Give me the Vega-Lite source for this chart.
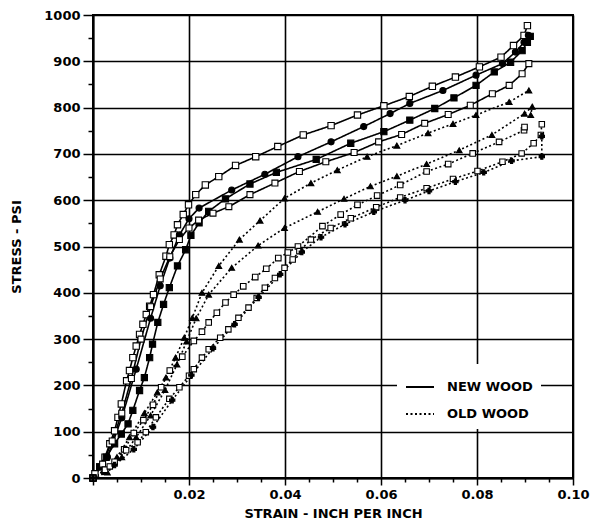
{
"$schema": "https://vega.github.io/schema/vega-lite/v6.json",
"width": 480, "height": 463,
"autosize": "none",
"padding": {"left": 93, "top": 15, "right": 18, "bottom": 46},
"background": "white",
"config": {"view": {"stroke": "black", "strokeWidth": 2}, "font": "DejaVu Sans"},
"datasets": {
"pts": [
{"s":"N1","w":"NEW WOOD","x":0,"y":0},{"s":"N1","w":"NEW WOOD","x":0.0004,"y":9},{"s":"N1","w":"NEW WOOD","x":0.0014,"y":24},{"s":"N1","w":"NEW WOOD","x":0.0025,"y":45},{"s":"N1","w":"NEW WOOD","x":0.0035,"y":74},{"s":"N1","w":"NEW WOOD","x":0.0045,"y":102},{"s":"N1","w":"NEW WOOD","x":0.0052,"y":131},{"s":"N1","w":"NEW WOOD","x":0.0059,"y":160},{"s":"N1","w":"NEW WOOD","x":0.0070,"y":210},{"s":"N1","w":"NEW WOOD","x":0.0076,"y":232},{"s":"N1","w":"NEW WOOD","x":0.0083,"y":260},{"s":"N1","w":"NEW WOOD","x":0.0090,"y":285},{"s":"N1","w":"NEW WOOD","x":0.0097,"y":310},{"s":"N1","w":"NEW WOOD","x":0.0104,"y":332},{"s":"N1","w":"NEW WOOD","x":0.0111,"y":353},{"s":"N1","w":"NEW WOOD","x":0.0118,"y":371},{"s":"N1","w":"NEW WOOD","x":0.0126,"y":396},{"s":"N1","w":"NEW WOOD","x":0.0138,"y":439},{"s":"N1","w":"NEW WOOD","x":0.0152,"y":479},{"s":"N1","w":"NEW WOOD","x":0.0159,"y":504},{"s":"N1","w":"NEW WOOD","x":0.0169,"y":525},{"s":"N1","w":"NEW WOOD","x":0.0176,"y":547},{"s":"N1","w":"NEW WOOD","x":0.0188,"y":569},{"s":"N1","w":"NEW WOOD","x":0.0199,"y":590},{"s":"N1","w":"NEW WOOD","x":0.0214,"y":612},{"s":"N1","w":"NEW WOOD","x":0.0234,"y":633},{"s":"N1","w":"NEW WOOD","x":0.0262,"y":651},{"s":"N1","w":"NEW WOOD","x":0.0297,"y":675},{"s":"N1","w":"NEW WOOD","x":0.0339,"y":694},{"s":"N1","w":"NEW WOOD","x":0.0385,"y":716},{"s":"N1","w":"NEW WOOD","x":0.0438,"y":741},{"s":"N1","w":"NEW WOOD","x":0.0496,"y":761},{"s":"N1","w":"NEW WOOD","x":0.0551,"y":784},{"s":"N1","w":"NEW WOOD","x":0.0606,"y":804},{"s":"N1","w":"NEW WOOD","x":0.0659,"y":824},{"s":"N1","w":"NEW WOOD","x":0.0707,"y":846},{"s":"N1","w":"NEW WOOD","x":0.0755,"y":866},{"s":"N1","w":"NEW WOOD","x":0.0805,"y":888},{"s":"N1","w":"NEW WOOD","x":0.0850,"y":909},{"s":"N1","w":"NEW WOOD","x":0.0876,"y":934},{"s":"N1","w":"NEW WOOD","x":0.0898,"y":956},{"s":"N1","w":"NEW WOOD","x":0.0905,"y":977},
{"s":"N2","w":"NEW WOOD","x":0,"y":0},{"s":"N2","w":"NEW WOOD","x":0.0014,"y":24},{"s":"N2","w":"NEW WOOD","x":0.0028,"y":45},{"s":"N2","w":"NEW WOOD","x":0.0045,"y":74},{"s":"N2","w":"NEW WOOD","x":0.0059,"y":95},{"s":"N2","w":"NEW WOOD","x":0.0073,"y":117},{"s":"N2","w":"NEW WOOD","x":0.0083,"y":146},{"s":"N2","w":"NEW WOOD","x":0.0097,"y":189},{"s":"N2","w":"NEW WOOD","x":0.0107,"y":217},{"s":"N2","w":"NEW WOOD","x":0.0118,"y":260},{"s":"N2","w":"NEW WOOD","x":0.0124,"y":289},{"s":"N2","w":"NEW WOOD","x":0.0135,"y":336},{"s":"N2","w":"NEW WOOD","x":0.0147,"y":375},{"s":"N2","w":"NEW WOOD","x":0.0159,"y":411},{"s":"N2","w":"NEW WOOD","x":0.0176,"y":458},{"s":"N2","w":"NEW WOOD","x":0.0193,"y":493},{"s":"N2","w":"NEW WOOD","x":0.0204,"y":524},{"s":"N2","w":"NEW WOOD","x":0.0221,"y":551},{"s":"N2","w":"NEW WOOD","x":0.0241,"y":576},{"s":"N2","w":"NEW WOOD","x":0.0276,"y":603},{"s":"N2","w":"NEW WOOD","x":0.0327,"y":635},{"s":"N2","w":"NEW WOOD","x":0.0382,"y":660},{"s":"N2","w":"NEW WOOD","x":0.0465,"y":688},{"s":"N2","w":"NEW WOOD","x":0.0537,"y":723},{"s":"N2","w":"NEW WOOD","x":0.0606,"y":748},{"s":"N2","w":"NEW WOOD","x":0.0660,"y":773},{"s":"N2","w":"NEW WOOD","x":0.0712,"y":798},{"s":"N2","w":"NEW WOOD","x":0.0752,"y":821},{"s":"N2","w":"NEW WOOD","x":0.0798,"y":848},{"s":"N2","w":"NEW WOOD","x":0.0836,"y":877},{"s":"N2","w":"NEW WOOD","x":0.0870,"y":898},{"s":"N2","w":"NEW WOOD","x":0.0894,"y":923},{"s":"N2","w":"NEW WOOD","x":0.0905,"y":941},{"s":"N2","w":"NEW WOOD","x":0.0911,"y":954},
{"s":"N3","w":"NEW WOOD","x":0,"y":0},{"s":"N3","w":"NEW WOOD","x":0.003,"y":45},{"s":"N3","w":"NEW WOOD","x":0.006,"y":130},{"s":"N3","w":"NEW WOOD","x":0.009,"y":235},{"s":"N3","w":"NEW WOOD","x":0.012,"y":345},{"s":"N3","w":"NEW WOOD","x":0.014,"y":415},{"s":"N3","w":"NEW WOOD","x":0.016,"y":475},{"s":"N3","w":"NEW WOOD","x":0.018,"y":525},{"s":"N3","w":"NEW WOOD","x":0.020,"y":560},{"s":"N3","w":"NEW WOOD","x":0.0221,"y":583},{"s":"N3","w":"NEW WOOD","x":0.0289,"y":622},{"s":"N3","w":"NEW WOOD","x":0.0358,"y":656},{"s":"N3","w":"NEW WOOD","x":0.0427,"y":694},{"s":"N3","w":"NEW WOOD","x":0.0496,"y":726},{"s":"N3","w":"NEW WOOD","x":0.0564,"y":759},{"s":"N3","w":"NEW WOOD","x":0.0619,"y":787},{"s":"N3","w":"NEW WOOD","x":0.0660,"y":809},{"s":"N3","w":"NEW WOOD","x":0.0729,"y":837},{"s":"N3","w":"NEW WOOD","x":0.0798,"y":870},{"s":"N3","w":"NEW WOOD","x":0.0853,"y":895},{"s":"N3","w":"NEW WOOD","x":0.0880,"y":920},{"s":"N3","w":"NEW WOOD","x":0.0898,"y":941},{"s":"N3","w":"NEW WOOD","x":0.0907,"y":956},
{"s":"N4","w":"NEW WOOD","x":0,"y":0},{"s":"N4","w":"NEW WOOD","x":0.002,"y":30},{"s":"N4","w":"NEW WOOD","x":0.004,"y":80},{"s":"N4","w":"NEW WOOD","x":0.006,"y":140},{"s":"N4","w":"NEW WOOD","x":0.008,"y":215},{"s":"N4","w":"NEW WOOD","x":0.010,"y":300},{"s":"N4","w":"NEW WOOD","x":0.012,"y":370},{"s":"N4","w":"NEW WOOD","x":0.014,"y":430},{"s":"N4","w":"NEW WOOD","x":0.016,"y":478},{"s":"N4","w":"NEW WOOD","x":0.018,"y":515},{"s":"N4","w":"NEW WOOD","x":0.020,"y":540},{"s":"N4","w":"NEW WOOD","x":0.022,"y":557},{"s":"N4","w":"NEW WOOD","x":0.025,"y":572},{"s":"N4","w":"NEW WOOD","x":0.0283,"y":586},{"s":"N4","w":"NEW WOOD","x":0.0327,"y":612},{"s":"N4","w":"NEW WOOD","x":0.0379,"y":637},{"s":"N4","w":"NEW WOOD","x":0.0430,"y":662},{"s":"N4","w":"NEW WOOD","x":0.0485,"y":683},{"s":"N4","w":"NEW WOOD","x":0.0544,"y":703},{"s":"N4","w":"NEW WOOD","x":0.0595,"y":726},{"s":"N4","w":"NEW WOOD","x":0.0643,"y":742},{"s":"N4","w":"NEW WOOD","x":0.0691,"y":766},{"s":"N4","w":"NEW WOOD","x":0.0740,"y":785},{"s":"N4","w":"NEW WOOD","x":0.0786,"y":805},{"s":"N4","w":"NEW WOOD","x":0.0832,"y":830},{"s":"N4","w":"NEW WOOD","x":0.0867,"y":848},{"s":"N4","w":"NEW WOOD","x":0.0894,"y":873},{"s":"N4","w":"NEW WOOD","x":0.0908,"y":895},
{"s":"O1","w":"OLD WOOD","x":0,"y":0},{"s":"O1","w":"OLD WOOD","x":0.0025,"y":13},{"s":"O1","w":"OLD WOOD","x":0.005,"y":45},{"s":"O1","w":"OLD WOOD","x":0.0076,"y":88},{"s":"O1","w":"OLD WOOD","x":0.0107,"y":140},{"s":"O1","w":"OLD WOOD","x":0.0134,"y":185},{"s":"O1","w":"OLD WOOD","x":0.0152,"y":217},{"s":"O1","w":"OLD WOOD","x":0.0172,"y":260},{"s":"O1","w":"OLD WOOD","x":0.019,"y":303},{"s":"O1","w":"OLD WOOD","x":0.0207,"y":346},{"s":"O1","w":"OLD WOOD","x":0.0227,"y":400},{"s":"O1","w":"OLD WOOD","x":0.0262,"y":458},{"s":"O1","w":"OLD WOOD","x":0.0305,"y":515},{"s":"O1","w":"OLD WOOD","x":0.0348,"y":556},{"s":"O1","w":"OLD WOOD","x":0.0399,"y":604},{"s":"O1","w":"OLD WOOD","x":0.0454,"y":637},{"s":"O1","w":"OLD WOOD","x":0.0509,"y":665},{"s":"O1","w":"OLD WOOD","x":0.0571,"y":694},{"s":"O1","w":"OLD WOOD","x":0.0633,"y":718},{"s":"O1","w":"OLD WOOD","x":0.0698,"y":745},{"s":"O1","w":"OLD WOOD","x":0.075,"y":765},{"s":"O1","w":"OLD WOOD","x":0.0798,"y":784},{"s":"O1","w":"OLD WOOD","x":0.0867,"y":812},{"s":"O1","w":"OLD WOOD","x":0.0908,"y":837},
{"s":"O2","w":"OLD WOOD","x":0,"y":0},{"s":"O2","w":"OLD WOOD","x":0.003,"y":12},{"s":"O2","w":"OLD WOOD","x":0.006,"y":45},{"s":"O2","w":"OLD WOOD","x":0.009,"y":88},{"s":"O2","w":"OLD WOOD","x":0.012,"y":135},{"s":"O2","w":"OLD WOOD","x":0.015,"y":190},{"s":"O2","w":"OLD WOOD","x":0.0175,"y":245},{"s":"O2","w":"OLD WOOD","x":0.0195,"y":295},{"s":"O2","w":"OLD WOOD","x":0.0215,"y":345},{"s":"O2","w":"OLD WOOD","x":0.0241,"y":396},{"s":"O2","w":"OLD WOOD","x":0.0289,"y":454},{"s":"O2","w":"OLD WOOD","x":0.0344,"y":502},{"s":"O2","w":"OLD WOOD","x":0.0399,"y":540},{"s":"O2","w":"OLD WOOD","x":0.0468,"y":575},{"s":"O2","w":"OLD WOOD","x":0.0523,"y":603},{"s":"O2","w":"OLD WOOD","x":0.0578,"y":630},{"s":"O2","w":"OLD WOOD","x":0.0633,"y":652},{"s":"O2","w":"OLD WOOD","x":0.0695,"y":678},{"s":"O2","w":"OLD WOOD","x":0.0763,"y":708},{"s":"O2","w":"OLD WOOD","x":0.0831,"y":741},{"s":"O2","w":"OLD WOOD","x":0.0899,"y":787},{"s":"O2","w":"OLD WOOD","x":0.0915,"y":802},{"s":"O2","w":"OLD WOOD","x":0.0912,"y":784},
{"s":"O3","w":"OLD WOOD","x":0,"y":0},{"s":"O3","w":"OLD WOOD","x":0.0025,"y":18},{"s":"O3","w":"OLD WOOD","x":0.0045,"y":35},{"s":"O3","w":"OLD WOOD","x":0.0065,"y":62},{"s":"O3","w":"OLD WOOD","x":0.0085,"y":97},{"s":"O3","w":"OLD WOOD","x":0.0105,"y":125},{"s":"O3","w":"OLD WOOD","x":0.0125,"y":158},{"s":"O3","w":"OLD WOOD","x":0.0142,"y":196},{"s":"O3","w":"OLD WOOD","x":0.016,"y":232},{"s":"O3","w":"OLD WOOD","x":0.0186,"y":262},{"s":"O3","w":"OLD WOOD","x":0.021,"y":296},{"s":"O3","w":"OLD WOOD","x":0.0227,"y":316},{"s":"O3","w":"OLD WOOD","x":0.0241,"y":336},{"s":"O3","w":"OLD WOOD","x":0.0258,"y":357},{"s":"O3","w":"OLD WOOD","x":0.0276,"y":379},{"s":"O3","w":"OLD WOOD","x":0.0293,"y":396},{"s":"O3","w":"OLD WOOD","x":0.0313,"y":414},{"s":"O3","w":"OLD WOOD","x":0.0338,"y":434},{"s":"O3","w":"OLD WOOD","x":0.0361,"y":452},{"s":"O3","w":"OLD WOOD","x":0.0386,"y":475},{"s":"O3","w":"OLD WOOD","x":0.0406,"y":487},{"s":"O3","w":"OLD WOOD","x":0.0427,"y":500},{"s":"O3","w":"OLD WOOD","x":0.0478,"y":544},{"s":"O3","w":"OLD WOOD","x":0.0516,"y":569},{"s":"O3","w":"OLD WOOD","x":0.0551,"y":590},{"s":"O3","w":"OLD WOOD","x":0.0592,"y":610},{"s":"O3","w":"OLD WOOD","x":0.064,"y":633},{"s":"O3","w":"OLD WOOD","x":0.0695,"y":662},{"s":"O3","w":"OLD WOOD","x":0.074,"y":678},{"s":"O3","w":"OLD WOOD","x":0.0791,"y":701},{"s":"O3","w":"OLD WOOD","x":0.0846,"y":726},{"s":"O3","w":"OLD WOOD","x":0.0898,"y":751},{"s":"O3","w":"OLD WOOD","x":0.0899,"y":758},
{"s":"O4","w":"OLD WOOD","x":0,"y":0},{"s":"O4","w":"OLD WOOD","x":0.0035,"y":25},{"s":"O4","w":"OLD WOOD","x":0.0069,"y":60},{"s":"O4","w":"OLD WOOD","x":0.0093,"y":77},{"s":"O4","w":"OLD WOOD","x":0.011,"y":99},{"s":"O4","w":"OLD WOOD","x":0.0131,"y":131},{"s":"O4","w":"OLD WOOD","x":0.0159,"y":171},{"s":"O4","w":"OLD WOOD","x":0.018,"y":196},{"s":"O4","w":"OLD WOOD","x":0.0200,"y":221},{"s":"O4","w":"OLD WOOD","x":0.021,"y":235},{"s":"O4","w":"OLD WOOD","x":0.0227,"y":260},{"s":"O4","w":"OLD WOOD","x":0.0241,"y":278},{"s":"O4","w":"OLD WOOD","x":0.0265,"y":303},{"s":"O4","w":"OLD WOOD","x":0.0282,"y":321},{"s":"O4","w":"OLD WOOD","x":0.0303,"y":346},{"s":"O4","w":"OLD WOOD","x":0.0324,"y":368},{"s":"O4","w":"OLD WOOD","x":0.0341,"y":389},{"s":"O4","w":"OLD WOOD","x":0.0358,"y":411},{"s":"O4","w":"OLD WOOD","x":0.0379,"y":432},{"s":"O4","w":"OLD WOOD","x":0.0399,"y":454},{"s":"O4","w":"OLD WOOD","x":0.0416,"y":472},{"s":"O4","w":"OLD WOOD","x":0.043,"y":490},{"s":"O4","w":"OLD WOOD","x":0.0454,"y":515},{"s":"O4","w":"OLD WOOD","x":0.0495,"y":540},{"s":"O4","w":"OLD WOOD","x":0.0537,"y":561},{"s":"O4","w":"OLD WOOD","x":0.059,"y":585},{"s":"O4","w":"OLD WOOD","x":0.064,"y":606},{"s":"O4","w":"OLD WOOD","x":0.0695,"y":626},{"s":"O4","w":"OLD WOOD","x":0.075,"y":646},{"s":"O4","w":"OLD WOOD","x":0.0801,"y":663},{"s":"O4","w":"OLD WOOD","x":0.0853,"y":683},{"s":"O4","w":"OLD WOOD","x":0.0893,"y":701},{"s":"O4","w":"OLD WOOD","x":0.0918,"y":723},{"s":"O4","w":"OLD WOOD","x":0.0933,"y":741},{"s":"O4","w":"OLD WOOD","x":0.0935,"y":764},
{"s":"O5","w":"OLD WOOD","x":0,"y":0},{"s":"O5","w":"OLD WOOD","x":0.0045,"y":28},{"s":"O5","w":"OLD WOOD","x":0.0085,"y":62},{"s":"O5","w":"OLD WOOD","x":0.0125,"y":110},{"s":"O5","w":"OLD WOOD","x":0.0165,"y":168},{"s":"O5","w":"OLD WOOD","x":0.0205,"y":222},{"s":"O5","w":"OLD WOOD","x":0.025,"y":280},{"s":"O5","w":"OLD WOOD","x":0.0295,"y":332},{"s":"O5","w":"OLD WOOD","x":0.0345,"y":390},{"s":"O5","w":"OLD WOOD","x":0.039,"y":440},{"s":"O5","w":"OLD WOOD","x":0.0435,"y":488},{"s":"O5","w":"OLD WOOD","x":0.0475,"y":520},{"s":"O5","w":"OLD WOOD","x":0.0525,"y":548},{"s":"O5","w":"OLD WOOD","x":0.0585,"y":575},{"s":"O5","w":"OLD WOOD","x":0.065,"y":600},{"s":"O5","w":"OLD WOOD","x":0.0700,"y":620},{"s":"O5","w":"OLD WOOD","x":0.0755,"y":640},{"s":"O5","w":"OLD WOOD","x":0.0814,"y":660},{"s":"O5","w":"OLD WOOD","x":0.0872,"y":685},{"s":"O5","w":"OLD WOOD","x":0.0935,"y":694},{"s":"O5","w":"OLD WOOD","x":0.0935,"y":738}
]
},
"data": {"name": "pts"},
"encoding": {
  "x": {"field": "x", "type": "quantitative",
    "scale": {"domain": [0, 0.1], "nice": false, "zero": false},
    "axis": {
      "title": "STRAIN - INCH PER INCH",
      "values": [0,0.005,0.01,0.015,0.02,0.025,0.03,0.035,0.04,0.045,0.05,0.055,0.06,0.065,0.07,0.075,0.08,0.085,0.09,0.095,0.1],
      "labelExpr": "datum.value > 0.001 && abs(datum.value*50 - round(datum.value*50)) < 0.01 ? format(datum.value, '.2f') : ''",
      "grid": true, "gridColor": "black", "gridWidth": 1.6,
      "gridOpacity": {"condition": {"test": "abs(datum.value*50 - round(datum.value*50)) < 0.01", "value": 1}, "value": 0},
      "tickSize": {"condition": {"test": "abs(datum.value*50 - round(datum.value*50)) < 0.01", "value": 7}, "value": 4},
      "tickColor": "black", "tickWidth": 1.5,
      "domainColor": "black", "domainWidth": 2,
      "labelFont": "DejaVu Sans", "labelFontWeight": "bold", "labelFontSize": 13, "labelColor": "black",
      "labelFlush": false, "labelOverlap": false, "labelPadding": 3,
      "titleFont": "DejaVu Sans", "titleFontWeight": "bold", "titleFontSize": 13, "titleColor": "black", "titlePadding": 6
    }
  },
  "y": {"field": "y", "type": "quantitative",
    "scale": {"domain": [0, 1000], "nice": false},
    "axis": {
      "title": "STRESS - PSI",
      "values": [0,50,100,150,200,250,300,350,400,450,500,550,600,650,700,750,800,850,900,950,1000],
      "labelExpr": "datum.value % 100 == 0 ? datum.value : ''",
      "grid": true, "gridColor": "black", "gridWidth": 1.6,
      "gridOpacity": {"condition": {"test": "datum.value % 100 == 0", "value": 1}, "value": 0},
      "tickSize": {"condition": {"test": "datum.value % 100 == 0", "value": 10}, "value": 5},
      "tickColor": "black", "tickWidth": 1.5,
      "domainColor": "black", "domainWidth": 2,
      "labelFont": "DejaVu Sans", "labelFontWeight": "bold", "labelFontSize": 13, "labelColor": "black",
      "labelOverlap": false, "labelPadding": 3,
      "titleFont": "DejaVu Sans", "titleFontWeight": "bold", "titleFontSize": 13, "titleColor": "black", "titlePadding": 20
    }
  }
},
"layer": [
  {"mark": {"type": "line", "color": "black", "strokeWidth": 1.6},
   "encoding": {
     "detail": {"field": "s"},
     "order": {"value": null},
     "strokeDash": {"field": "w", "type": "nominal",
       "scale": {"domain": ["NEW WOOD", "OLD WOOD"], "range": [[1, 0], [2, 2.5]]},
       "legend": {"orient": "none", "legendX": 304, "legendY": 349, "title": null,
         "fillColor": "white", "padding": 8, "symbolType": "stroke", "symbolSize": 784,
         "symbolStrokeWidth": 2, "symbolStrokeColor": "black",
         "labelFont": "DejaVu Sans", "labelFontWeight": "bold", "labelFontSize": 13, "labelColor": "black",
         "labelOffset": 12, "rowPadding": 5}
     }
   }
  },
  {"mark": {"type": "point", "stroke": "black", "strokeWidth": 1.1, "opacity": 1},
   "encoding": {
     "shape": {"field": "s", "type": "nominal", "legend": null,
       "scale": {"domain": ["N1","N2","N3","N4","O1","O2","O3","O4","O5"],
                 "range": ["square","square","circle","square","triangle-up","triangle-up","square","square","cross"]}},
     "fill": {"field": "s", "type": "nominal", "legend": null,
       "scale": {"domain": ["N1","N2","N3","N4","O1","O2","O3","O4","O5"],
                 "range": ["white","black","black","white","black","black","white","white","black"]}},
     "size": {"field": "s", "type": "nominal", "legend": null,
       "scale": {"domain": ["N1","N2","N3","N4","O1","O2","O3","O4","O5"],
                 "range": [40, 28, 2, 30, 10, 10, 34, 34, 18]}}
   }
  }
]
}
